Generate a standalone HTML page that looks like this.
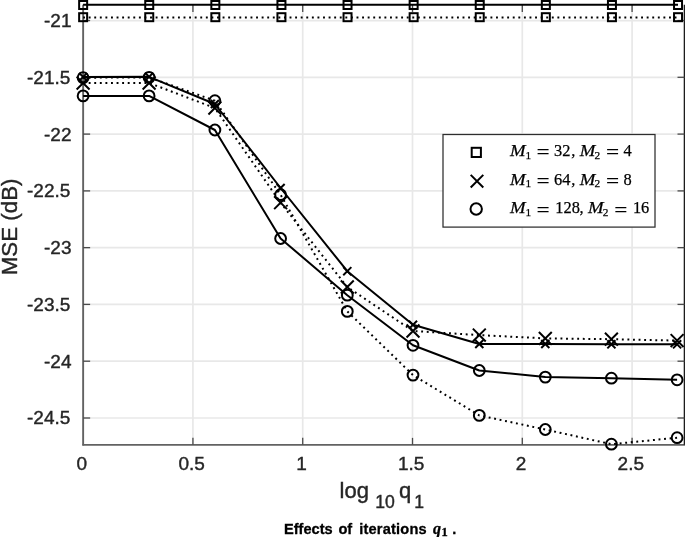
<!DOCTYPE html>
<html><head><meta charset="utf-8"><title>Effects of iterations</title>
<style>html,body{margin:0;padding:0;background:#fff}svg{display:block}text{font-family:"Liberation Sans",sans-serif;fill:#262626}.m{font-family:"Liberation Serif",serif;fill:#000}.e{fill:#000;stroke:none}</style></head><body>
<svg width="685" height="537" viewBox="0 0 685 537">
<rect width="685" height="537" fill="#fff"/>
<g stroke="#e8e8e8" stroke-width="1.7" fill="none">
<line x1="83.14" y1="20.55" x2="684.5" y2="20.55"/>
<line x1="83.14" y1="77.3" x2="684.5" y2="77.3"/>
<line x1="83.14" y1="134.1" x2="684.5" y2="134.1"/>
<line x1="83.14" y1="190.9" x2="684.5" y2="190.9"/>
<line x1="83.14" y1="247.65" x2="684.5" y2="247.65"/>
<line x1="83.14" y1="304.4" x2="684.5" y2="304.4"/>
<line x1="83.14" y1="361.2" x2="684.5" y2="361.2"/>
<line x1="83.14" y1="418.0" x2="684.5" y2="418.0"/>
<line x1="192.93" y1="4.85" x2="192.93" y2="444.85"/>
<line x1="302.72" y1="4.85" x2="302.72" y2="444.85"/>
<line x1="412.51" y1="4.85" x2="412.51" y2="444.85"/>
<line x1="522.3" y1="4.85" x2="522.3" y2="444.85"/>
<line x1="632.09" y1="4.85" x2="632.09" y2="444.85"/>
</g>
<g stroke="#626262" stroke-width="1.9" fill="none">
<line x1="83.14" y1="4.85" x2="83.14" y2="445.6"/>
<line x1="82.39" y1="444.85" x2="685" y2="444.85"/>
</g>
<line x1="684.5" y1="4.85" x2="684.5" y2="444.85" stroke="#1c1c1c" stroke-width="1.6"/>
<g stroke="#4a4a4a" stroke-width="1.3" fill="none">
<line x1="83.14" y1="20.55" x2="90.14" y2="20.55"/>
<line x1="684.5" y1="20.55" x2="677.5" y2="20.55"/>
<line x1="83.14" y1="77.3" x2="90.14" y2="77.3"/>
<line x1="684.5" y1="77.3" x2="677.5" y2="77.3"/>
<line x1="83.14" y1="134.1" x2="90.14" y2="134.1"/>
<line x1="684.5" y1="134.1" x2="677.5" y2="134.1"/>
<line x1="83.14" y1="190.9" x2="90.14" y2="190.9"/>
<line x1="684.5" y1="190.9" x2="677.5" y2="190.9"/>
<line x1="83.14" y1="247.65" x2="90.14" y2="247.65"/>
<line x1="684.5" y1="247.65" x2="677.5" y2="247.65"/>
<line x1="83.14" y1="304.4" x2="90.14" y2="304.4"/>
<line x1="684.5" y1="304.4" x2="677.5" y2="304.4"/>
<line x1="83.14" y1="361.2" x2="90.14" y2="361.2"/>
<line x1="684.5" y1="361.2" x2="677.5" y2="361.2"/>
<line x1="83.14" y1="418.0" x2="90.14" y2="418.0"/>
<line x1="684.5" y1="418.0" x2="677.5" y2="418.0"/>
<line x1="192.93" y1="444.85" x2="192.93" y2="437.85"/>
<line x1="192.93" y1="4.85" x2="192.93" y2="11.9"/>
<line x1="302.72" y1="444.85" x2="302.72" y2="437.85"/>
<line x1="302.72" y1="4.85" x2="302.72" y2="11.9"/>
<line x1="412.51" y1="444.85" x2="412.51" y2="437.85"/>
<line x1="412.51" y1="4.85" x2="412.51" y2="11.9"/>
<line x1="522.3" y1="444.85" x2="522.3" y2="437.85"/>
<line x1="522.3" y1="4.85" x2="522.3" y2="11.9"/>
<line x1="632.09" y1="444.85" x2="632.09" y2="437.85"/>
<line x1="632.09" y1="4.85" x2="632.09" y2="11.9"/>
</g>
<g stroke="#000" stroke-width="2" fill="none" stroke-linejoin="round">
<polyline points="83.1,4.8 149.2,4.8 215.3,4.8 281.4,4.8 347.5,4.8 413.6,4.8 479.7,4.8 545.8,4.8 611.9,4.8 678.0,4.8"/>
<polyline points="83.1,76.9 149.1,76.8 214.9,104.0 280.6,188.0 347.3,271.2 413.0,324.8 479.3,344.0 545.3,344.0 611.4,344.3 677.1,344.3"/>
<polyline points="83.1,95.9 149.1,95.9 214.9,130.0 280.6,238.5 347.3,295.2 413.0,345.3 479.3,370.5 545.3,377.1 611.4,378.2 677.1,379.8"/>
<polyline points="83.1,17.4 149.2,17.4 215.3,17.4 281.4,17.4 347.5,17.4 413.6,17.4 479.7,17.4 545.8,17.4 611.9,17.4 678.0,17.4" stroke-dasharray="1.9 3.68"/>
<polyline points="83.1,83.1 149.1,83.0 214.9,108.0 280.6,202.7 347.3,287.0 413.0,331.0 479.3,335.1 545.3,338.4 611.4,339.2 677.1,340.6" stroke-dasharray="1.9 3.68"/>
<polyline points="83.1,77.7 149.1,77.4 214.9,100.7 280.6,194.7 347.3,311.4 413.0,375.1 479.3,415.4 545.3,429.5 611.4,444.2 677.1,437.7" stroke-dasharray="1.9 3.68"/>
</g>
<g stroke="#000" stroke-width="2" fill="none" stroke-linejoin="miter">
<rect x="79.14" y="1.00" width="8" height="8"/>
<rect x="145.24" y="1.00" width="8" height="8"/>
<rect x="211.34" y="1.00" width="8" height="8"/>
<rect x="277.44" y="1.00" width="8" height="8"/>
<rect x="343.54" y="1.00" width="8" height="8"/>
<rect x="409.64" y="1.00" width="8" height="8"/>
<rect x="475.74" y="1.00" width="8" height="8"/>
<rect x="541.84" y="1.00" width="8" height="8"/>
<rect x="607.94" y="1.00" width="8" height="8"/>
<rect x="674.04" y="1.00" width="8" height="8"/>
<rect x="79.14" y="13.20" width="8" height="8"/>
<rect x="145.24" y="13.20" width="8" height="8"/>
<rect x="211.34" y="13.20" width="8" height="8"/>
<rect x="277.44" y="13.20" width="8" height="8"/>
<rect x="343.54" y="13.20" width="8" height="8"/>
<rect x="409.64" y="13.20" width="8" height="8"/>
<rect x="475.74" y="13.20" width="8" height="8"/>
<rect x="541.84" y="13.20" width="8" height="8"/>
<rect x="607.94" y="13.20" width="8" height="8"/>
<rect x="674.04" y="13.20" width="8" height="8"/>
<path d="M79.05 72.85L87.15 80.95M79.05 80.95L87.15 72.85"/>
<path d="M145.05 72.75L153.15 80.85M145.05 80.85L153.15 72.75"/>
<path d="M210.85 99.95L218.95 108.05M210.85 108.05L218.95 99.95"/>
<path d="M276.55 183.95L284.65 192.05M276.55 192.05L284.65 183.95"/>
<path d="M343.25 267.15L351.35 275.25M343.25 275.25L351.35 267.15"/>
<path d="M408.95 320.75L417.05 328.85M408.95 328.85L417.05 320.75"/>
<path d="M475.25 339.95L483.35 348.05M475.25 348.05L483.35 339.95"/>
<path d="M541.25 339.95L549.35 348.05M541.25 348.05L549.35 339.95"/>
<path d="M607.35 340.25L615.45 348.35M607.35 348.35L615.45 340.25"/>
<path d="M673.05 340.25L681.15 348.35M673.05 348.35L681.15 340.25"/>
<path d="M76.65 76.65L89.55 89.55M76.65 89.55L89.55 76.65"/>
<path d="M142.65 76.55L155.55 89.45M142.65 89.45L155.55 76.55"/>
<path d="M208.45 101.55L221.35 114.45M208.45 114.45L221.35 101.55"/>
<path d="M274.15 196.25L287.05 209.15M274.15 209.15L287.05 196.25"/>
<path d="M340.85 280.55L353.75 293.45M340.85 293.45L353.75 280.55"/>
<path d="M406.55 324.55L419.45 337.45M406.55 337.45L419.45 324.55"/>
<path d="M472.85 328.65L485.75 341.55M472.85 341.55L485.75 328.65"/>
<path d="M538.85 331.95L551.75 344.85M538.85 344.85L551.75 331.95"/>
<path d="M604.95 332.75L617.85 345.65M604.95 345.65L617.85 332.75"/>
<path d="M670.65 334.15L683.55 347.05M670.65 347.05L683.55 334.15"/>
<circle cx="83.10" cy="95.90" r="5.4"/>
<circle cx="149.10" cy="95.90" r="5.4"/>
<circle cx="214.90" cy="130.00" r="5.4"/>
<circle cx="280.60" cy="238.50" r="5.4"/>
<circle cx="347.30" cy="295.20" r="5.4"/>
<circle cx="413.00" cy="345.30" r="5.4"/>
<circle cx="479.30" cy="370.50" r="5.4"/>
<circle cx="545.30" cy="377.10" r="5.4"/>
<circle cx="611.40" cy="378.20" r="5.4"/>
<circle cx="677.10" cy="379.80" r="5.4"/>
<circle cx="83.10" cy="77.70" r="5.4"/>
<circle cx="149.10" cy="77.40" r="5.4"/>
<circle cx="214.90" cy="100.70" r="5.4"/>
<circle cx="280.60" cy="194.70" r="5.4"/>
<circle cx="347.30" cy="311.40" r="5.4"/>
<circle cx="413.00" cy="375.10" r="5.4"/>
<circle cx="479.30" cy="415.40" r="5.4"/>
<circle cx="545.30" cy="429.50" r="5.4"/>
<circle cx="611.40" cy="444.20" r="5.4"/>
<circle cx="677.10" cy="437.70" r="5.4"/>
</g>
<rect x="443" y="134.5" width="212.0" height="92.6" fill="#fff" stroke="#2e2e2e" stroke-width="1.25"/>
<g stroke="#000" stroke-width="2" fill="none">
<rect x="471.70" y="147.80" width="9.2" height="9.2"/>
<path d="M470.70 174.90L483.30 187.50M470.70 187.50L483.30 174.90"/>
<circle cx="476.20" cy="209.00" r="5.7"/>
</g>
<g stroke="#000" stroke-width="0.25">
<text class="m" x="510.0" y="156.0" font-size="17" font-style="italic" textLength="15.6" lengthAdjust="spacingAndGlyphs">M</text><text class="m" x="525.4" y="158.6" font-size="11.3">1</text><text class="e" x="536.5" y="157.3" font-size="14.5" textLength="13.2" lengthAdjust="spacingAndGlyphs">=</text><text class="m" x="554.1" y="156.0" font-size="16.4">32</text><text class="m" x="571.3" y="156.0" font-size="16.4">,</text><text class="m" x="579.7" y="156.0" font-size="17" font-style="italic" textLength="15.6" lengthAdjust="spacingAndGlyphs">M</text><text class="m" x="594.6" y="158.6" font-size="11.3">2</text><text class="e" x="606.0" y="157.3" font-size="14.5" textLength="13.2" lengthAdjust="spacingAndGlyphs">=</text><text class="m" x="623.4" y="156.0" font-size="16.4">4</text>
<text class="m" x="510.0" y="184.7" font-size="17" font-style="italic" textLength="15.6" lengthAdjust="spacingAndGlyphs">M</text><text class="m" x="525.4" y="187.3" font-size="11.3">1</text><text class="e" x="536.5" y="186.0" font-size="14.5" textLength="13.2" lengthAdjust="spacingAndGlyphs">=</text><text class="m" x="554.1" y="184.7" font-size="16.4">64</text><text class="m" x="571.3" y="184.7" font-size="16.4">,</text><text class="m" x="579.7" y="184.7" font-size="17" font-style="italic" textLength="15.6" lengthAdjust="spacingAndGlyphs">M</text><text class="m" x="594.6" y="187.3" font-size="11.3">2</text><text class="e" x="606.0" y="186.0" font-size="14.5" textLength="13.2" lengthAdjust="spacingAndGlyphs">=</text><text class="m" x="623.4" y="184.7" font-size="16.4">8</text>
<text class="m" x="510.0" y="213.4" font-size="17" font-style="italic" textLength="15.6" lengthAdjust="spacingAndGlyphs">M</text><text class="m" x="525.4" y="216.0" font-size="11.3">1</text><text class="e" x="536.5" y="214.7" font-size="14.5" textLength="13.2" lengthAdjust="spacingAndGlyphs">=</text><text class="m" x="555.3" y="213.4" font-size="16.4">128</text><text class="m" x="579.5" y="213.4" font-size="16.4">,</text><text class="m" x="587.9" y="213.4" font-size="17" font-style="italic" textLength="15.6" lengthAdjust="spacingAndGlyphs">M</text><text class="m" x="602.8" y="216.0" font-size="11.3">2</text><text class="e" x="614.2" y="214.7" font-size="14.5" textLength="13.2" lengthAdjust="spacingAndGlyphs">=</text><text class="m" x="632.9" y="213.4" font-size="16.4">16</text>
</g>
<g font-size="19" stroke="#262626" stroke-width="0.4">
<text x="71.5" y="27.00" text-anchor="end">-21</text>
<text x="70.3" y="83.75" text-anchor="end">-21.5</text>
<text x="71.5" y="140.55" text-anchor="end">-22</text>
<text x="70.3" y="197.35" text-anchor="end">-22.5</text>
<text x="71.5" y="254.10" text-anchor="end">-23</text>
<text x="70.3" y="310.85" text-anchor="end">-23.5</text>
<text x="71.5" y="367.65" text-anchor="end">-24</text>
<text x="70.3" y="424.45" text-anchor="end">-24.5</text>
<text x="81.84" y="470.4" text-anchor="middle">0</text>
<text x="191.63" y="470.4" text-anchor="middle">0.5</text>
<text x="301.42" y="470.4" text-anchor="middle">1</text>
<text x="411.21" y="470.4" text-anchor="middle">1.5</text>
<text x="521.00" y="470.4" text-anchor="middle">2</text>
<text x="630.79" y="470.4" text-anchor="middle">2.5</text>
</g>
<text y="497.6" font-size="22" stroke="#262626" stroke-width="0.4"><tspan x="339.6">log</tspan><tspan x="375.2" dy="10.2" font-size="17.6">10</tspan><tspan x="399" dy="-10.2">q</tspan><tspan x="414.2" dy="10.2" font-size="17.6">1</tspan></text>
<text transform="translate(16.9 275.2) rotate(-90)" font-size="22.3" stroke="#262626" stroke-width="0.4">MSE (dB)</text>
<text y="533.7" font-size="14.6" font-weight="bold" fill="#000" stroke="#000" stroke-width="0.3" style="fill:#000"><tspan x="284">Effects</tspan><tspan x="338.4">of</tspan><tspan x="359.2" letter-spacing="0.2">iterations</tspan><tspan x="433" class="m" font-style="italic" font-size="16">q</tspan><tspan x="441.6" dy="2.2" class="m" font-size="12.5">1</tspan><tspan x="452.2" dy="-2.2">.</tspan></text>
</svg></body></html>
